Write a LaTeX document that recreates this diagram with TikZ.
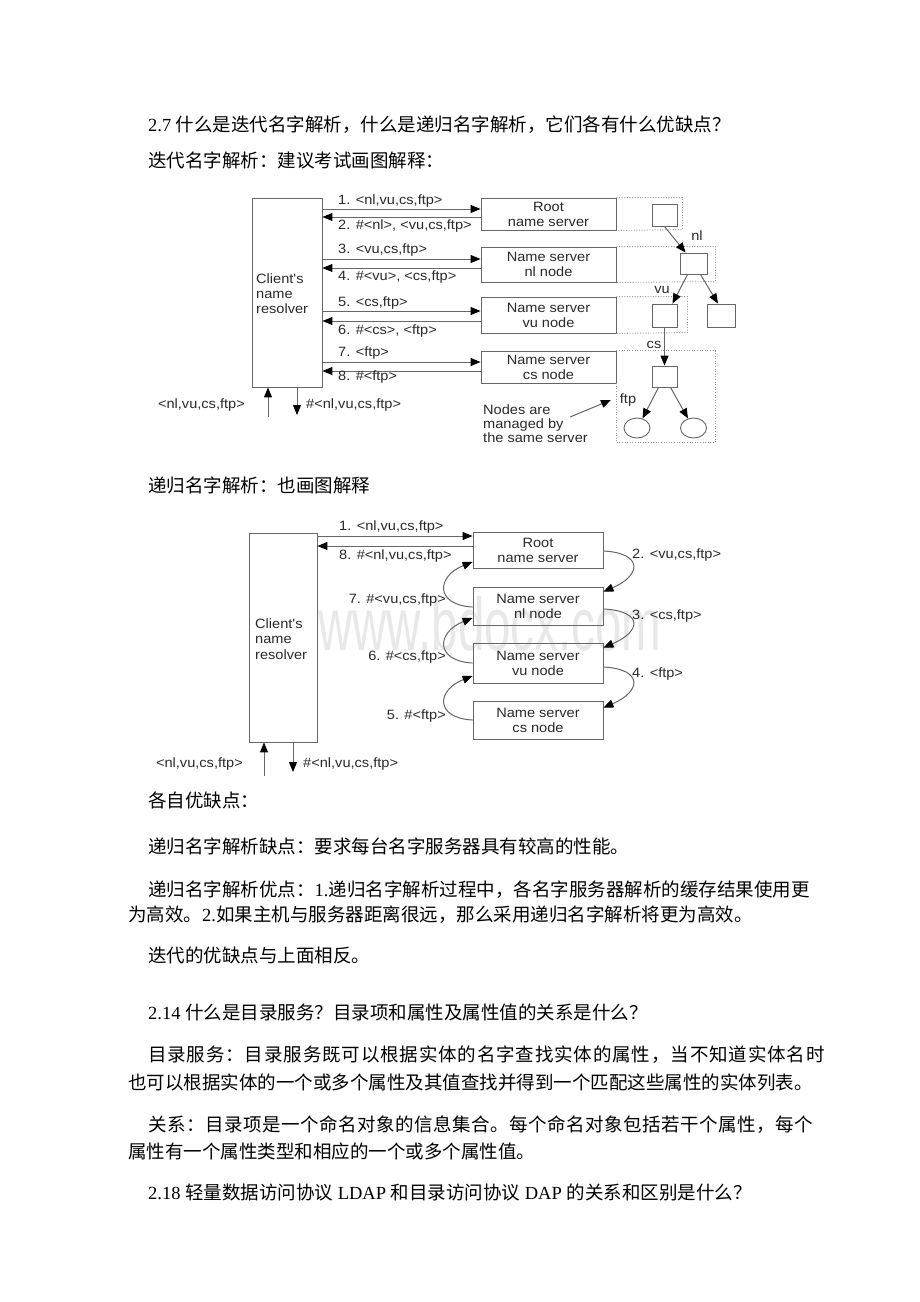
\documentclass[tikz,border=0pt]{standalone}
\usepackage{graphicx}
\usepackage{fontspec}
\setmainfont{Noto Sans CJK SC}
\newfontfamily\lat{Liberation Serif}
\newfontfamily\dia[FakeStretch=1.08]{Liberation Sans}
\usetikzlibrary{arrows.meta,calc,shapes.geometric}
\definecolor{ln}{HTML}{666666}
\definecolor{tx}{HTML}{2A2A2A}
\definecolor{wm}{HTML}{E8E8E8}
\definecolor{dt}{HTML}{9A9A9A}
\tikzset{
 box/.style={draw=ln, line width=0.9pt, inner sep=0pt, align=center, text=tx,
   font=\dia\fontsize{13.5}{15}\selectfont},
 sq/.style={draw=ln, line width=0.9pt, inner sep=0pt},
 lbl/.style={inner sep=0pt, text=tx, font=\dia\fontsize{13.5}{15}\selectfont},
 arr/.style={draw=ln, line width=1pt, -{Triangle[length=10pt,width=8pt,color=black]}},
 dots/.style={draw=dt, line width=0.9pt, dash pattern=on 1pt off 1.6pt},
 para/.style={inner sep=0pt, anchor=west, text=black, font=\fontsize{18.5}{22}\selectfont},
}
\begin{document}
\begin{tikzpicture}[x=1pt,y=-1pt]
\fill[white] (0,0) rectangle (920,1302);
\useasboundingbox (0,0) rectangle (920,1302);

% ---------- text ----------
\node[para] (t1) at (148,125) {{\lat 2.7 }什么是迭代名字解析，什么是递归名字解析，它们各有什么优缺点？};
\node[para] (t2) at (148,160) {迭代名字解析：建议考试画图解释：};
\node[para] (t3) at (148,485) {递归名字解析：也画图解释};
\node[para] (t4) at (148,800) {各自优缺点：};
\node[para] (t5) at (148,846) {递归名字解析缺点：要求每台名字服务器具有较高的性能。};
\node[para] (t6) at (148,890) {递归名字解析优点：{\lat 1.}递归名字解析过程中，各名字服务器解析的缓存结果使用更};
\node[para] (t7) at (128,915) {为高效。{\lat 2.}如果主机与服务器距离很远，那么采用递归名字解析将更为高效。};
\node[para] (t8) at (148,955) {迭代的优缺点与上面相反。};
\node[para] (t9) at (148,1012) {{\lat 2.14 }什么是目录服务？目录项和属性及属性值的关系是什么？};
\node[para] (t10) at (148,1055) {\addfontfeature{LetterSpace=4.6}目录服务：目录服务既可以根据实体的名字查找实体的属性，当不知道实体名时};
\node[para] (t11) at (128,1082) {也可以根据实体的一个或多个属性及其值查找并得到一个匹配这些属性的实体列表。};
\node[para] (t12) at (148,1125) {\addfontfeature{LetterSpace=2.8}关系：目录项是一个命名对象的信息集合。每个命名对象包括若干个属性，每个};
\node[para] (t13) at (128,1151) {属性有一个属性类型和相应的一个或多个属性值。};
\node[para] (t14) at (148,1192) {{\lat 2.18 }轻量数据访问协议{\lat\ LDAP }和目录访问协议{\lat\ DAP }的关系和区别是什么？};

% ---------- watermark ----------
\node[anchor=base west, inner sep=0pt, text=wm] (wmk) at (318,650)
  {\scalebox{1}[1.7]{\dia\fontsize{44}{44}\selectfont www.bdocx.com}};

% ---------- iterative diagram ----------
\node[box, minimum width=70, minimum height=189] (c1) at (287,292.5) {};
\node[lbl, anchor=west, align=left] (c1t) at (256,294) {Client's\\name\\resolver};
\node[box, minimum width=135, minimum height=32] (root1) at (548.5,214) {Root\\name server};
\node[box, minimum width=135, minimum height=35] (nl1) at (548.5,264.5) {Name server\\nl node};
\node[box, minimum width=135, minimum height=36] (vu1) at (548.5,315) {Name server\\vu node};
\node[box, minimum width=135, minimum height=32] (cs1) at (548.5,367) {Name server\\cs node};

\coordinate (r1a) at ($(root1.west)+(0,-5)$);
\coordinate (r1b) at ($(root1.west)+(0,3)$);
\coordinate (n1a) at ($(nl1.west)+(0,-5.5)$);
\coordinate (n1b) at ($(nl1.west)+(0,3.5)$);
\coordinate (v1a) at ($(vu1.west)+(0,-4)$);
\coordinate (v1b) at ($(vu1.west)+(0,6)$);
\coordinate (s1a) at ($(cs1.west)+(0,-5)$);
\coordinate (s1b) at ($(cs1.west)+(0,4)$);
\draw[arr] (c1.east |- r1a) -- (r1a);
\draw[arr] (r1b) -- (c1.east |- r1b);
\draw[arr] (c1.east |- n1a) -- (n1a);
\draw[arr] (n1b) -- (c1.east |- n1b);
\draw[arr] (c1.east |- v1a) -- (v1a);
\draw[arr] (v1b) -- (c1.east |- v1b);
\draw[arr] (c1.east |- s1a) -- (s1a);
\draw[arr] (s1b) -- (c1.east |- s1b);

\node[lbl, anchor=west] (l1) at (338,201) {1. <nl,vu,cs,ftp>};
\node[lbl, anchor=west] (l2) at (338,226) {2. \#<nl>, <vu,cs,ftp>};
\node[lbl, anchor=west] (l3) at (338,250) {3. <vu,cs,ftp>};
\node[lbl, anchor=west] (l4) at (338,277) {4. \#<vu>, <cs,ftp>};
\node[lbl, anchor=west] (l5) at (338,303) {5. <cs,ftp>};
\node[lbl, anchor=west] (l6) at (338,331) {6. \#<cs>, <ftp>};
\node[lbl, anchor=west] (l7) at (338,353) {7. <ftp>};
\node[lbl, anchor=west] (l8) at (338,377) {8. \#<ftp>};

\coordinate (u1) at (268,417);
\coordinate (d1) at (297,415);
\draw[arr] (u1) -- (u1 |- c1.south);
\draw[arr] (d1 |- c1.south) -- (d1);
\node[lbl, anchor=east] (in1) at (245,405) {<nl,vu,cs,ftp>};
\node[lbl, anchor=west] (out1) at (306,405) {\#<nl,vu,cs,ftp>};

% dotted server regions
\draw[dots] (root1.north east) -- ++(66,0) -- ++(0,32) -- (root1.south east);
\draw[dots] (nl1.north east) -- ++(99,0) -- ++(0,35) -- (nl1.south east);
\draw[dots] (vu1.north east) -- ++(71,0) -- ++(0,36) -- (vu1.south east);
\draw[dots] (cs1.north east) -- ++(99,0) -- ++(0,92) -- ++(-99,0) -- (cs1.south east);

% tree
\node[sq, minimum width=25, minimum height=22] (sq0) at (664.5,215) {};
\node[sq, minimum width=27, minimum height=21] (sq1) at (693.5,263.5) {};
\node[sq, minimum width=25, minimum height=23] (sq2) at (664.5,315.5) {};
\node[sq, minimum width=28, minimum height=23] (sq3) at (721,315.5) {};
\node[sq, minimum width=25, minimum height=21] (sq4) at (664.5,376.5) {};
\node[sq, ellipse, minimum width=26, minimum height=20] (cc1) at (637,428) {};
\node[sq, ellipse, minimum width=26, minimum height=20] (cc2) at (693.5,428) {};

\draw[arr] (sq0.south) -- ($(sq1.north west)+(6,0)$);
\draw[arr] ($(sq1.south west)+(8,0)$) -- ($(sq2.north east)+(-5,0)$);
\draw[arr] ($(sq1.south east)+(-7,0)$) -- ($(sq3.north)+(-3,0)$);
\draw[arr] (sq2.south) -- (sq4.north);
\draw[arr] ($(sq4.south)+(-6,0)$) -- (cc1.60);
\draw[arr] ($(sq4.south)+(6,0)$) -- (cc2.120);

\node[lbl] (tnl) at (697,236) {nl};
\node[lbl] (tvu) at (662,290) {vu};
\node[lbl] (tcs) at (654,345) {cs};
\node[lbl] (tftp) at (628,400) {ftp};

\node[lbl, anchor=north west, align=left, font=\dia\fontsize{13.5}{14}\selectfont] (note) at (483,405)
  {Nodes are\\managed by\\the same server};
\coordinate (na) at (570,417);
\coordinate (nb) at (611,400);
\draw[arr] (na) -- (nb);

% ---------- recursive diagram ----------
\node[box, minimum width=68, minimum height=209] (c2) at (283,637.5) {};
\node[lbl, anchor=west, align=left, font=\dia\fontsize{13.5}{15.5}\selectfont] (c2t) at (255,639) {Client's\\name\\resolver};
\node[box, minimum width=130, minimum height=36] (root2) at (538,550) {Root\\name server};
\node[box, minimum width=130, minimum height=38] (nl2) at (538,606) {Name server\\nl node};
\node[box, minimum width=130, minimum height=40] (vu2) at (538,663) {Name server\\vu node};
\node[box, minimum width=130, minimum height=38] (cs2) at (538,720) {Name server\\cs node};

\coordinate (r2a) at ($(root2.west)+(0,-14)$);
\coordinate (r2b) at ($(root2.west)+(0,-4)$);
\draw[arr] (c2.east |- r2a) -- (r2a);
\draw[arr] (r2b) -- (c2.east |- r2b);
\node[lbl, anchor=west] (m1) at (339,527) {1. <nl,vu,cs,ftp>};
\node[lbl, anchor=west] (m8) at (339,556) {8. \#<nl,vu,cs,ftp>};

% right-hand forward curves
\draw[arr] ($(root2.east)+(0,1)$) .. controls +(40,2) and +(38,-16) .. ($(nl2.north east)+(0,5)$);
\draw[arr] ($(nl2.east)+(0,3)$) .. controls +(40,2) and +(38,-16) .. ($(vu2.north east)+(0,5)$);
\draw[arr] ($(vu2.east)+(0,4)$) .. controls +(40,2) and +(38,-16) .. ($(cs2.north east)+(0,7)$);
\node[lbl, anchor=west] (m2) at (632,555) {2. <vu,cs,ftp>};
\node[lbl, anchor=west] (m3) at (632,616) {3. <cs,ftp>};
\node[lbl, anchor=west] (m4) at (632,674) {4. <ftp>};

% left-hand return curves
\draw[arr] ($(nl2.west)+(0,1)$) .. controls +(-38,-2) and +(-36,14) .. ($(root2.west)+(0,12)$);
\draw[arr] (vu2.west) .. controls +(-38,-2) and +(-36,14) .. ($(nl2.west)+(0,12)$);
\draw[arr] (cs2.west) .. controls +(-38,-2) and +(-36,14) .. ($(vu2.west)+(0,13)$);
\node[lbl, anchor=east] (m7) at (446,600) {7. \#<vu,cs,ftp>};
\node[lbl, anchor=east] (m6) at (446,657) {6. \#<cs,ftp>};
\node[lbl, anchor=east] (m5) at (446,716) {5. \#<ftp>};

\coordinate (u2) at (264,776);
\coordinate (d2) at (293,772);
\draw[arr] (u2) -- (u2 |- c2.south);
\draw[arr] (d2 |- c2.south) -- (d2);
\node[lbl, anchor=east] (in2) at (243,764) {<nl,vu,cs,ftp>};
\node[lbl, anchor=west] (out2) at (303,764) {\#<nl,vu,cs,ftp>};
\end{tikzpicture}
\end{document}
